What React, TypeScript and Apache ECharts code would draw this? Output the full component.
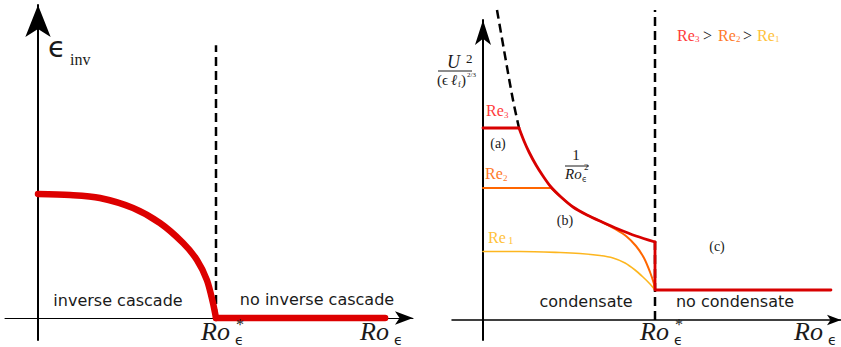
import React, { useEffect, useRef } from "react";
import * as echarts from "echarts";

// ---------- Left panel (inverse cascade flux vs Ro_eps), Ro*_eps = 1 ----------
const leftCurveRo = [0, 0.18, 0.348, 0.534, 0.685, 0.815, 0.893, 0.949, 0.983, 1.0];
const leftCurveEps = [1.0, 0.992, 0.968, 0.887, 0.766, 0.605, 0.468, 0.306, 0.121, 0];
const leftFlatRo = [1.0, 1.95];
const leftFlatEps = [0, 0];
const leftCritRo = [1, 1];
const leftCritY = [0, 2.2];

// ---------- Right panel (U^2/(eps l_f)^(2/3) vs Ro_eps), Ro*_eps = 1 ----------
const re3FlatRo = [0, 0.2093];
const re3FlatU = [1.92, 1.92];
const re3CurveRo = [0.2093, 0.2384, 0.2674, 0.3081, 0.3488, 0.3953, 0.4535, 0.5233, 0.6047, 0.6919, 0.7849, 0.8895, 1.0];
const re3CurveU = [1.92, 1.79, 1.68, 1.55, 1.44, 1.33, 1.23, 1.13, 1.05, 0.98, 0.91, 0.84, 0.78];
const re3DropRo = [1.0, 1.0, 2.023];
const re3DropU = [0.78, 0.3, 0.3];
const re2FlatRo = [0, 0.3953];
const re2FlatU = [1.32, 1.32];
const re2CurveRo = [0.3953, 0.4535, 0.5233, 0.6047, 0.6919, 0.7674, 0.8314, 0.8895, 0.936, 0.9709, 0.9942, 1.0];
const re2CurveU = [1.32, 1.23, 1.13, 1.05, 0.98, 0.91, 0.84, 0.74, 0.62, 0.48, 0.36, 0.3];
const re1Ro = [0, 0.215, 0.448, 0.564, 0.68, 0.756, 0.826, 0.884, 0.93, 0.971, 1.0];
const re1U = [0.685, 0.685, 0.675, 0.665, 0.645, 0.62, 0.57, 0.5, 0.43, 0.36, 0.3];
const invSqRo = [0.0814, 0.1395, 0.1744, 0.2093];
const invSqU = [3.1, 2.53, 2.2, 1.92];
const rightCritRo = [1, 1];
const rightCritY = [0, 3.1];

const RED = "#d80000";
const ORANGE = "#ff6600";
const YELLOW = "#fdb61f";
const C3 = "#ff3b3b";
const C2 = "#ff7a2a";
const C1 = "#ffc23a";

const zip = (a: number[], b: number[]) => a.map((v, i) => [v, b[i]]);

const SERIF = "Liberation Serif";
const SANS = "DejaVu Sans";

function txt(text: string, x: number, y: number, size: number, opts: any = {}) {
  return {
    type: "text",
    x,
    y,
    z: 100,
    silent: true,
    style: {
      text,
      fontSize: size,
      fontFamily: opts.family || SERIF,
      fontStyle: opts.italic ? "italic" : "normal",
      fontWeight: opts.bold ? "bold" : "normal",
      fill: opts.color || "#1a1a1a",
      textAlign: opts.align || "left",
      textVerticalAlign: opts.valign || "middle",
    },
  };
}

function hline(x1: number, x2: number, y: number) {
  return {
    type: "line",
    silent: true,
    z: 100,
    shape: { x1, y1: y, x2, y2: y },
    style: { stroke: "#1a1a1a", lineWidth: 1 },
  };
}

function roLabel(x: number, y: number, star: boolean) {
  const els: any[] = [txt("Ro", x, y, 26, { italic: true })];
  els.push(txt("ϵ", x + 34, y + 8.5, 14, { family: SANS }));
  if (star) els.push(txt("*", x + 35, y - 7, 16));
  return els;
}

export default function App() {
  const ref = useRef<HTMLDivElement>(null);
  useEffect(() => {
    if (!ref.current) return;
    const chart = echarts.init(ref.current, undefined, { renderer: "svg" });
    const hiddenAxis = {
      axisTick: { show: false },
      axisLabel: { show: false },
      splitLine: { show: false },
    };
    const line = (
      data: number[][],
      idx: number,
      color: string,
      width: number,
      extra: any = {}
    ) => ({
      type: "line",
      xAxisIndex: idx,
      yAxisIndex: idx,
      data,
      showSymbol: false,
      symbol: "none",
      clip: false,
      lineStyle: { color, width, cap: "round", join: "round", ...(extra.lineStyle || {}) },
      smooth: extra.smooth || false,
      z: extra.z || 2,
      silent: true,
    });

    const option: any = {
      animation: false,
      backgroundColor: "#ffffff",
      grid: [
        { left: 5, top: 5, width: 408, height: 335 },
        { left: 452, top: 20, width: 389, height: 320 },
      ],
      xAxis: [
        {
          type: "value",
          gridIndex: 0,
          min: -33 / 178,
          max: 375 / 178,
          ...hiddenAxis,
          axisLine: {
            show: true,
            onZero: true,
            symbol: ["none", "arrow"],
            symbolSize: [10, 18],
            lineStyle: { color: "#000", width: 1 },
          },
        },
        {
          type: "value",
          gridIndex: 1,
          min: -31 / 172,
          max: 358 / 172,
          ...hiddenAxis,
          axisLine: {
            show: true,
            onZero: true,
            symbol: ["none", "arrow"],
            symbolSize: [8, 14],
            lineStyle: { color: "#000", width: 1.5 },
          },
        },
      ],
      yAxis: [
        {
          type: "value",
          gridIndex: 0,
          min: -22 / 124,
          max: 313 / 124,
          ...hiddenAxis,
          axisLine: {
            show: true,
            onZero: true,
            symbol: ["none", "arrow"],
            symbolSize: [19, 32],
            lineStyle: { color: "#000", width: 2 },
          },
        },
        {
          type: "value",
          gridIndex: 1,
          min: -0.2,
          max: 3.0,
          ...hiddenAxis,
          axisLine: {
            show: true,
            onZero: true,
            symbol: ["none", "arrow"],
            symbolSize: [12, 25],
            lineStyle: { color: "#000", width: 2 },
          },
        },
      ],
      series: [
        line(zip(leftCritRo, leftCritY), 0, "#000", 2.5, { lineStyle: { type: [9, 5], cap: "butt" } }),
        line(zip(leftCurveRo, leftCurveEps), 0, "#dd0000", 6.5, { smooth: 0.3, z: 3 }),
        line(zip(leftFlatRo, leftFlatEps), 0, "#dd0000", 6.5, { z: 3 }),

        line(zip(rightCritRo, rightCritY), 1, "#000", 2.5, { lineStyle: { type: [9, 5], cap: "butt" } }),
        line(zip(invSqRo, invSqU), 1, "#000", 2.5, { smooth: 0.3, lineStyle: { type: [9, 5], cap: "butt" } }),
        line(zip(re1Ro, re1U), 1, YELLOW, 1.6, { smooth: 0.3, z: 3 }),
        line(zip(re2FlatRo, re2FlatU), 1, ORANGE, 2, { z: 4 }),
        line(zip(re2CurveRo, re2CurveU), 1, ORANGE, 2, { smooth: 0.3, z: 4 }),
        line(zip(re3FlatRo, re3FlatU), 1, RED, 2.8, { z: 5 }),
        line(zip(re3CurveRo, re3CurveU), 1, RED, 2.8, { smooth: 0.3, z: 5 }),
        line(zip(re3DropRo, re3DropU), 1, RED, 2.8, { z: 5 }),
      ],
      graphic: [
        // left panel
        txt("ϵ", 48, 47, 29, { family: SANS }),
        txt("inv", 70, 59, 16),
        txt("inverse cascade", 118, 300, 16, { family: SANS, align: "center" }),
        txt("no inverse cascade", 317, 299, 16, { family: SANS, align: "center" }),
        ...roLabel(201, 331, true),
        ...roLabel(360, 331, false),
        // right panel
        txt("U", 447, 62, 18, { italic: true }),
        txt("2", 466, 58, 13),
        hline(438, 472, 71),
        txt("(ϵ", 437, 80, 15),
        txt("ℓ", 451, 80, 15, { italic: true }),
        txt("f", 458, 84, 8),
        txt(")", 461, 80, 15),
        txt("2/3", 467, 75, 7),
        txt("Re", 486, 110, 16, { color: C3 }),
        txt("3", 504, 115, 9, { color: C3 }),
        txt("(a)", 498, 143, 14, { align: "center" }),
        txt("Re", 485, 173, 16, { color: C2 }),
        txt("2", 503, 178, 9, { color: C2 }),
        txt("1", 576, 155, 15, { align: "center" }),
        hline(565, 589, 166),
        txt("Ro", 565, 174, 15, { italic: true }),
        txt("ϵ", 582, 179, 8, { family: SANS }),
        txt("2", 584, 167, 9),
        txt("(b)", 565, 220, 14, { align: "center" }),
        txt("Re", 488, 237, 16, { color: C1 }),
        txt("1", 508, 240, 11, { color: C1 }),
        txt("(c)", 717, 246, 14, { align: "center" }),
        txt("condensate", 586, 301, 16, { family: SANS, align: "center" }),
        txt("no condensate", 735, 301, 16, { family: SANS, align: "center" }),
        txt("Re", 677, 35, 16, { color: C3 }),
        txt("3", 695, 39, 9, { color: C3 }),
        txt(">", 703, 35, 16),
        txt("Re", 718, 35, 16, { color: C2 }),
        txt("2", 736, 39, 9, { color: C2 }),
        txt(">", 743, 35, 16),
        txt("Re", 757, 35, 16, { color: C1 }),
        txt("1", 775, 39, 9, { color: C1 }),
        ...roLabel(640, 331, true),
        ...roLabel(794, 331, false),
      ],
    };
    chart.setOption(option);
    return () => chart.dispose();
  }, []);
  return (
    <div
      ref={ref}
      style={{ position: "absolute", left: 0, top: 0, width: 841, height: 347 }}
    />
  );
}
